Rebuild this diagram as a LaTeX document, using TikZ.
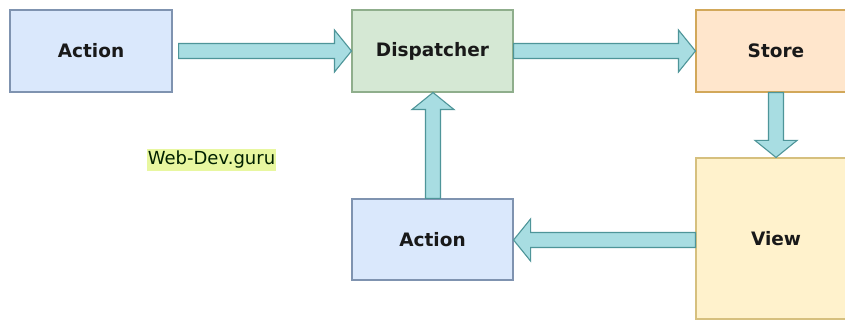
\documentclass[tikz,border=0pt]{standalone}
\usepackage{fontspec}
\setmainfont{DejaVu Sans}
\usetikzlibrary{calc}

\definecolor{actfill}{HTML}{DAE8FC}
\definecolor{actline}{HTML}{7F93B0}
\definecolor{dspfill}{HTML}{D5E8D4}
\definecolor{dspline}{HTML}{8FAE8C}
\definecolor{stofill}{HTML}{FFE6CC}
\definecolor{stoline}{HTML}{D2A85A}
\definecolor{viwfill}{HTML}{FFF2CC}
\definecolor{viwline}{HTML}{D6C07E}
\definecolor{arrfill}{HTML}{A8DDE2}
\definecolor{arrline}{HTML}{4E9599}
\definecolor{markfill}{HTML}{E8F7A0}

\tikzset{
  box/.style={draw, line width=1.1pt, minimum width=161pt, minimum height=81pt,
    inner sep=0pt, font=\fontsize{18.5}{20}\selectfont\bfseries, text=black!90},
  actbox/.style={box, fill=actfill, draw=actline},
  dspbox/.style={box, fill=dspfill, draw=dspline},
  stobox/.style={box, fill=stofill, draw=stoline},
  viwbox/.style={box, fill=viwfill, draw=viwline},
  fatarrow/.style={draw=arrline, fill=arrfill, line width=1.1pt, line join=miter},
  watermark/.style={fill=markfill, inner xsep=1pt, inner ysep=2pt,
    font=\fontsize{18}{20}\selectfont, text=black!75!green!50!black}
}

% Block arrow from #1 to #2: shaft half-width 7.5pt, head half-width 21pt, head length 17pt
\newcommand\blockarrow[2]{%
  \coordinate (ba-base) at ($(#2)!17pt!(#1)$);
  \draw[fatarrow]
    ($(#1)!7.5pt!90:(#2)$) --
    ($(ba-base)!7.5pt!90:(#2)$) --
    ($(ba-base)!21pt!90:(#2)$) --
    (#2) --
    ($(ba-base)!21pt!-90:(#2)$) --
    ($(ba-base)!7.5pt!-90:(#2)$) --
    ($(#1)!7.5pt!-90:(#2)$) -- cycle;
}

\begin{document}
\begin{tikzpicture}[x=1pt, y=1pt]
  \useasboundingbox (0,0) rectangle (845,320);
  \clip (0,0) rectangle (845,320);
  \fill[white] (0,0) rectangle (845,320);

  \node[actbox, minimum width=162pt, minimum height=82pt] (act1) at (91,269) {Action};
  \node[dspbox, minimum height=82pt] (disp) at (432.5,269) {Dispatcher};
  \node[stobox, minimum width=160pt, minimum height=82pt] (store) at (776,269) {Store};
  \node[viwbox, minimum width=160pt, minimum height=161pt] (view) at (776,81.5) {View};
  \node[actbox] (act2) at (432.5,80.5) {Action};

  \node[watermark] (mark) at (211.5,160) {Web-Dev.guru};

  \coordinate (a1out) at ($(act1.east)+(6,0)$);
  \blockarrow{a1out}{disp.west}
  \blockarrow{disp.east}{store.west}
  \coordinate (stobot) at (store.south);
  \coordinate (viwtop) at (view.north);
  \blockarrow{stobot}{viwtop}
  \coordinate (viwleft) at ($(view.west)+(0,-1.5)$);
  \coordinate (a2right) at ($(act2.east)+(0,-0.5)$);
  \blockarrow{viwleft}{a2right}
  \coordinate (a2top) at ($(act2.north)+(0.5,0)$);
  \coordinate (dspbot) at ($(disp.south)+(0.5,0)$);
  \blockarrow{a2top}{dspbot}
\end{tikzpicture}
\end{document}
